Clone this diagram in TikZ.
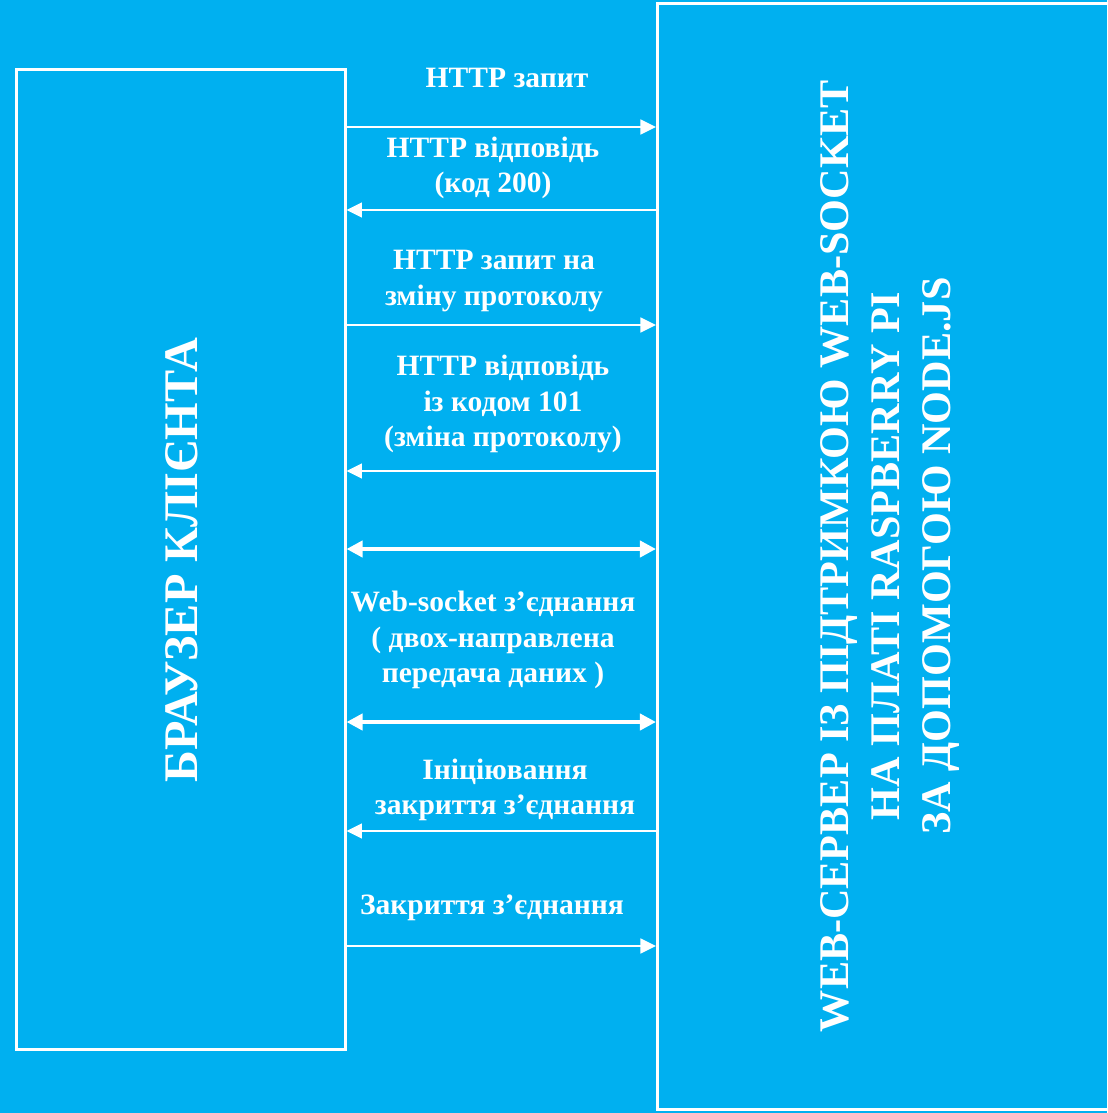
\documentclass[tikz,border=0pt]{standalone}
\usepackage{fontspec}
\setmainfont{Liberation Serif}
\usepackage{xcolor}
\usetikzlibrary{arrows.meta,positioning}

\definecolor{skyfill}{HTML}{00B0F0}

\tikzset{
  side/.style={draw=white, line width=2.1pt, inner sep=0pt},
  msg/.style={white, line width=1.4pt, -{Triangle[length=11pt,width=10.5pt]}},
  duplex/.style={white, line width=2.8pt, {Triangle[length=11.5pt,width=11.5pt]}-{Triangle[length=11.5pt,width=11.5pt]}},
  lbl/.style={white, font=\fontsize{21}{25}\selectfont\bfseries, align=center, inner sep=0pt},
}

\begin{document}
\begin{tikzpicture}[x=0.025cm, y=-0.025cm]
        % Background
        \fill[skyfill] (0,0) rectangle (1107,1113);
        \useasboundingbox (0,0) rectangle (1107,1113);
        \clip (0,0) rectangle (1107,1113);

        % Client and server sides
        \node[side, minimum width=8.2cm, minimum height=24.475cm] (client) at (181,559.5) {};
        \node[side, minimum width=12.5cm, minimum height=27.65cm] (server) at (907.5,556.5) {};

        \node[white, rotate=90, font=\fontsize{34.3}{40}\selectfont\bfseries] (clientname) at (182,560) {БРАУЗЕР КЛІЄНТА};
        \node[white, rotate=90, align=center, font=\fontsize{30}{36}\selectfont\bfseries] (servername) at (890,556)
          {WEB-СЕРВЕР ІЗ ПІДТРИМКОЮ WEB-SOCKET\\НА ПЛАТІ RASPBERRY PI\\ЗА ДОПОМОГОЮ NODE.JS};

        % Handshake
        \node[lbl] (req) at (507,78) {HTTP запит};
        \draw[msg] (client.east |- 0,127) -- (server.west |- 0,127);

        \node[lbl] (resp) at (493,168) {HTTP відповідь\\(код 200)};
        \draw[msg] (server.west |- 0,210) -- (client.east |- 0,210);

        \node[lbl] (upgrade) at (494,281) {HTTP запит на\\зміну протоколу};
        \draw[msg] (client.east |- 0,325) -- (server.west |- 0,325);

        \node[lbl] (switch) at (503,404) {HTTP відповідь\\із кодом 101\\(зміна протоколу)};
        \draw[msg] (server.west |- 0,471) -- (client.east |- 0,471);

        % Open connection
        \draw[duplex] (client.east |- 0,549) -- (server.west |- 0,549);
        \node[lbl] (duplexinfo) at (493,640) {Web-socket з’єднання\\( двох-направлена\\передача даних )};
        \draw[duplex] (client.east |- 0,722) -- (server.west |- 0,722);

        % Closing
        \node[lbl] (closereq) at (505,790) {Ініціювання\\закриття з’єднання};
        \draw[msg] (server.west |- 0,831) -- (client.east |- 0,831);

        \node[lbl] (closeack) at (492,908) {Закриття з’єднання};
        \draw[msg] (client.east |- 0,946) -- (server.west |- 0,946);
\end{tikzpicture}
\end{document}
